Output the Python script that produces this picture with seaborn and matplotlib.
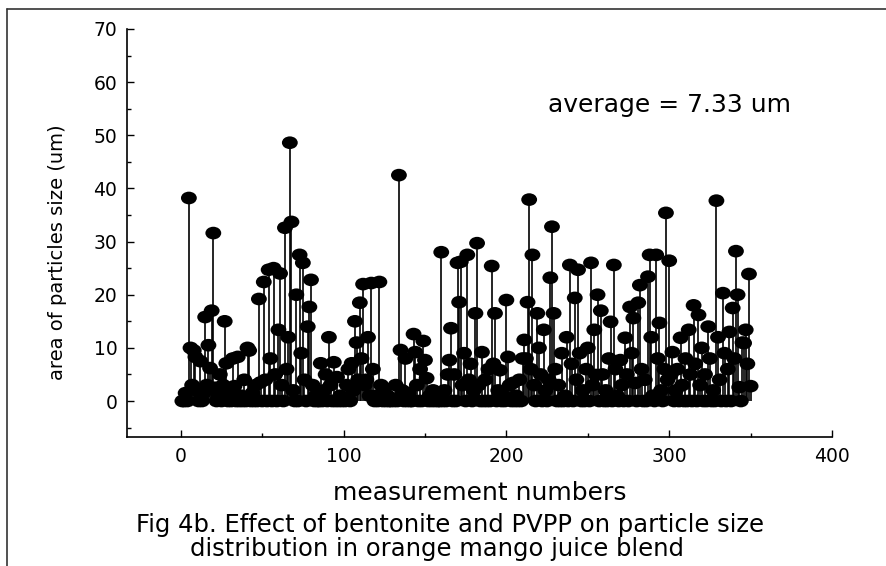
import numpy as np
import matplotlib
matplotlib.use('Agg')
import matplotlib.pyplot as plt
import matplotlib.path as mpath
from matplotlib.transforms import Affine2D
from matplotlib.lines import Line2D
from matplotlib.ticker import MultipleLocator
import seaborn as sns

n_measurements = 350
meas_no = [
    3, 5, 6, 7, 8, 9, 10, 12, 14, 15,
    16, 17, 18, 19, 20, 21, 23, 24, 26, 27,
    28, 30, 32, 33, 35, 37, 39, 41, 42, 44,
    46, 48, 49, 51, 52, 54, 55, 57, 58, 60,
    61, 62, 64, 65, 66, 67, 68, 69, 71, 73,
    74, 75, 76, 78, 79, 80, 81, 83, 86, 88,
    89, 91, 92, 94, 96, 98, 100, 102, 103, 105,
    106, 107, 108, 109, 110, 111, 112, 113, 114, 115,
    116, 117, 118, 120, 122, 123, 125, 127, 130, 132,
    134, 135, 136, 138, 140, 143, 144, 145, 147, 149,
    150, 151, 153, 155, 157, 160, 162, 164, 165, 166,
    168, 170, 171, 172, 173, 174, 176, 177, 178, 180,
    181, 182, 183, 185, 187, 189, 191, 192, 193, 195,
    196, 198, 200, 201, 202, 204, 206, 208, 210, 211,
    212, 213, 214, 215, 216, 217, 219, 220, 221, 223,
    224, 226, 227, 228, 229, 230, 232, 234, 236, 237,
    239, 240, 242, 243, 244, 245, 247, 249, 250, 252,
    253, 254, 255, 256, 258, 259, 261, 263, 264, 266,
    267, 268, 270, 271, 273, 274, 276, 277, 278, 279,
    281, 282, 283, 285, 287, 288, 289, 290, 292, 293,
    294, 295, 297, 298, 299, 300, 301, 302, 304, 305,
    307, 308, 310, 312, 313, 315, 316, 318, 319, 320,
    322, 324, 325, 327, 329, 330, 331, 333, 334, 336,
    337, 339, 340, 341, 342, 343, 345, 346, 347, 348,
    349, 350,
]
size_um = [
    1.5, 38.2, 10, 3, 9.5, 8.3, 2, 7.5, 1.5, 15.8,
    3, 10.5, 6.2, 17, 31.6, 2.5, 1, 5, 3, 15,
    7.1, 2, 8, 2.8, 8.3, 1, 4, 10, 9.5, 1.5,
    3, 19.2, 3.5, 22.4, 4, 24.7, 8, 25, 5, 13.4,
    24, 3, 32.6, 6, 12, 48.6, 33.7, 2, 20, 27.5,
    9, 26, 4, 14, 17.7, 22.8, 3, 1, 7.1, 2,
    5, 12, 3, 7.3, 4.5, 1, 0.5, 3, 6, 7.1,
    2, 15, 11, 4, 18.5, 8, 22, 3, 4, 12,
    1, 22.2, 6, 1, 22.4, 3, 2.4, 1, 0.5, 3,
    42.5, 9.6, 2, 8, 1.5, 12.6, 9.2, 3, 6, 11.3,
    7.7, 4.3, 1, 2, 0.5, 28, 2, 5, 7.7, 13.7,
    5, 26, 18.6, 26.2, 3, 9, 27.5, 4, 7, 2,
    16.5, 29.7, 3, 9.2, 4, 6, 25.4, 7, 16.5, 2,
    5.8, 1, 19, 8.3, 3, 3.4, 1, 4, 8, 11.5,
    8, 18.6, 37.9, 6, 27.5, 3, 16.5, 10, 5, 13.4,
    2, 4, 23.2, 32.8, 16.5, 6, 3, 9, 1, 12,
    25.6, 7, 19.4, 4, 24.7, 9, 2, 6, 10, 26,
    3, 13.4, 4.9, 20, 17, 5, 2, 8, 14.9, 25.6,
    6, 1, 7.7, 3, 11.9, 5, 17.7, 9, 15.6, 3.4,
    18.5, 21.8, 6, 4, 23.4, 27.5, 12, 1, 27.5, 8,
    14.7, 2, 6, 35.4, 4, 26.4, 5, 9.2, 2, 6,
    11.9, 3, 8, 13.4, 5, 18, 7, 16.2, 3, 10,
    5, 14, 8, 2, 37.7, 12, 4, 20.3, 9, 6,
    13, 17.5, 8, 28.2, 20, 2.6, 11, 10.9, 13.4, 7,
    23.9, 2.8,
]
x_ticks = [0, 100, 200, 300, 400]
y_ticks = [0, 10, 20, 30, 40, 50, 60, 70]
avg_text = 'average = 7.33 um'

assert len(meas_no) == len(size_um)
numbers = np.arange(1, n_measurements + 1)
sizes = np.zeros(n_measurements)
sizes[np.array(meas_no) - 1] = size_um

sns.set_style('ticks')
plt.rcParams['font.family'] = ['DejaVu Sans']
plt.rcParams['text.color'] = 'black'
plt.rcParams['xtick.color'] = 'black'
plt.rcParams['ytick.color'] = 'black'

fig = plt.figure(figsize=(8.87, 5.66), dpi=100)
ax = fig.add_axes([0.1432, 0.2279, 0.938 - 0.1432, 0.9488 - 0.2279])

# stems + squashed round markers like the scanned figure
ax.vlines(numbers, 0, sizes, color='black', lw=1.2, zorder=2)
blob = mpath.Path.unit_circle().transformed(Affine2D().scale(1.25, 1.0))
sns.scatterplot(x=numbers, y=sizes, marker=blob, s=130, color='black',
                edgecolor='none', linewidth=0, ax=ax, zorder=3)

ax.set_xlim(-33, 400)
ax.set_ylim(-6.77, 70)
ax.set_xticks(x_ticks)
ax.set_yticks(y_ticks)
ax.xaxis.set_minor_locator(MultipleLocator(50))
ax.yaxis.set_minor_locator(MultipleLocator(5))
ax.tick_params(which='both', direction='in', color='black', width=1)
ax.tick_params(which='major', length=5, labelsize=13.5, pad=7)
ax.tick_params(which='minor', length=3)
sns.despine(ax=ax)
for s in ['left', 'bottom']:
    ax.spines[s].set_color('black')
    ax.spines[s].set_linewidth(1.2)
ax.set_xlabel('')
ax.set_ylabel('')

ax.text(225.5, 55.7, avg_text, fontsize=18, va='center', ha='left')

fig.text(58 / 887, 1 - 252 / 566, 'area of particles size (um)', rotation=90,
         fontsize=14, ha='center', va='center')
fig.text(480 / 887, 1 - 493 / 566, 'measurement numbers', fontsize=18,
         ha='center', va='center')
fig.text(450 / 887, 1 - 525 / 566,
         'Fig 4b. Effect of bentonite and PVPP on particle size',
         fontsize=17.5, ha='center', va='center')
fig.text(437 / 887, 1 - 549 / 566, 'distribution in orange mango juice blend',
         fontsize=17.5, ha='center', va='center')

# border of the scanned page
fig.add_artist(Line2D([7 / 887, 7 / 887], [0, 1 - 9 / 566], color='#333333',
                      lw=1.2, transform=fig.transFigure))
fig.add_artist(Line2D([7 / 887, 1], [1 - 9 / 566, 1 - 9 / 566], color='#333333',
                      lw=1.2, transform=fig.transFigure))

fig.savefig('out.png', dpi=100)
